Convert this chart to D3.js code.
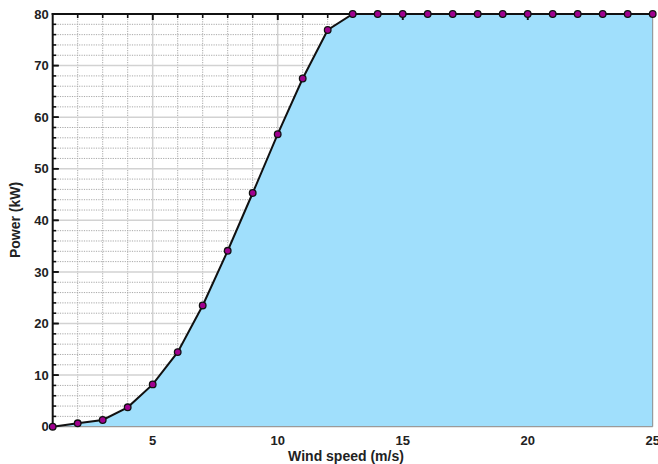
<!DOCTYPE html>
<html>
<head>
<meta charset="utf-8">
<script src="https://cdn.jsdelivr.net/npm/d3@7"></script>
<style>
  html, body { margin: 0; padding: 0; background: #fff; }
  svg { display: block; }
  text { font-family: "Liberation Sans", Arial, Helvetica, sans-serif; font-weight: bold; fill: #222; }
</style>
</head>
<body>
<svg id="chart" width="658" height="464"></svg>
<script>
// Wind speed (m/s) and turbine power output (kW)
const windSpeed = [1, 2, 3, 4, 5, 6, 7, 8, 9, 10, 11, 12, 13, 14, 15, 16, 17, 18, 19, 20, 21, 22, 23, 24, 25];
const power = [0, 0.66, 1.3, 3.76, 8.2, 14.46, 23.5, 34.1, 45.3, 56.7, 67.5, 76.9, 80, 80, 80, 80, 80, 80, 80, 80, 80, 80, 80, 80, 80];
const xTicks = [5, 10, 15, 20, 25];
const yTicks = [0, 10, 20, 30, 40, 50, 60, 70, 80];

const data = windSpeed.map((w, i) => ({ w, p: power[i] }));

const svg = d3.select("#chart");
const plotL = 52.7, plotR = 652.7, plotT = 14, plotB = 426.7;

const x = d3.scaleLinear().domain([1, 25]).range([plotL, plotR]);
const y = d3.scaleLinear().domain([0, 80]).range([plotB, plotT]);

const minorX = d3.range(2, 25);
const minorY = d3.range(2, 80, 2);

// minor grid (dotted)
const grid = svg.append("g");
grid.selectAll(".mx").data(minorX.filter(v => v % 5 !== 0)).join("line")
  .attr("x1", d => x(d)).attr("x2", d => x(d)).attr("y1", plotT).attr("y2", plotB)
  .attr("stroke", "#a8a8a8").attr("stroke-width", 1).attr("stroke-dasharray", "1.2,1.2");
grid.selectAll(".my").data(minorY.filter(v => v % 10 !== 0)).join("line")
  .attr("x1", plotL).attr("x2", plotR).attr("y1", d => y(d)).attr("y2", d => y(d))
  .attr("stroke", "#a8a8a8").attr("stroke-width", 1).attr("stroke-dasharray", "1.2,1.2");
// major grid (solid light grey)
grid.selectAll(".Mx").data(xTicks.filter(v => v < 25)).join("line")
  .attr("x1", d => x(d)).attr("x2", d => x(d)).attr("y1", plotT).attr("y2", plotB)
  .attr("stroke", "#d2d2d2").attr("stroke-width", 1.5);
grid.selectAll(".My").data(yTicks.filter(v => v > 0 && v < 80)).join("line")
  .attr("x1", plotL).attr("x2", plotR).attr("y1", d => y(d)).attr("y2", d => y(d))
  .attr("stroke", "#d2d2d2").attr("stroke-width", 1.5);

// area under the power curve
const area = d3.area().x(d => x(d.w)).y0(y(0)).y1(d => y(d.p));
svg.append("path").datum(data).attr("d", area).attr("fill", "#a0dffc");

// right and bottom frame (grey)
svg.append("line").attr("x1", plotR).attr("x2", plotR).attr("y1", plotT).attr("y2", plotB)
  .attr("stroke", "#8a8a8a").attr("stroke-width", 1);
svg.append("line").attr("x1", plotL).attr("x2", plotR).attr("y1", plotB).attr("y2", plotB)
  .attr("stroke", "#9a9a9a").attr("stroke-width", 1.2);

// top axis: ticks pointing inward
const topAxis = svg.append("g");
topAxis.selectAll("line.t").data(minorX.concat(xTicks.filter(v => v < 25))).join("line")
  .attr("x1", d => x(d)).attr("x2", d => x(d))
  .attr("y1", plotT).attr("y2", d => plotT + (d % 5 === 0 ? 6 : 4))
  .attr("stroke", "#111").attr("stroke-width", 1.6);
topAxis.append("line").attr("x1", plotL - 1).attr("x2", plotR + 1).attr("y1", plotT).attr("y2", plotT)
  .attr("stroke", "#111").attr("stroke-width", 2);

// left axis: ticks pointing inward
const leftAxis = svg.append("g");
leftAxis.selectAll("line.t").data(minorY.concat(yTicks.filter(v => v > 0 && v < 80))).join("line")
  .attr("x1", plotL).attr("x2", d => plotL + (d % 10 === 0 ? 6 : 3.5))
  .attr("y1", d => y(d)).attr("y2", d => y(d))
  .attr("stroke", "#111").attr("stroke-width", 1.6);
leftAxis.append("line").attr("x1", plotL).attr("x2", plotL).attr("y1", plotT - 1).attr("y2", plotB + 1)
  .attr("stroke", "#111").attr("stroke-width", 2);

// tick labels
svg.append("g").selectAll("text").data(yTicks).join("text")
  .attr("x", plotL - 4).attr("y", d => y(d)).attr("dy", "0.36em")
  .attr("text-anchor", "end").attr("font-size", 13).text(d => d);
svg.append("g").selectAll("text").data(xTicks).join("text")
  .attr("x", d => x(d)).attr("y", 445)
  .attr("text-anchor", "middle").attr("font-size", 13).text(d => d);

// power curve line and markers
const line = d3.line().x(d => x(d.w)).y(d => y(d.p));
svg.append("path").datum(data).attr("d", line)
  .attr("fill", "none").attr("stroke", "#111").attr("stroke-width", 2);
svg.append("g").selectAll("circle").data(data).join("circle")
  .attr("cx", d => x(d.w)).attr("cy", d => y(d.p)).attr("r", 3.3)
  .attr("fill", "#a0008f").attr("stroke", "#111").attr("stroke-width", 1.3);

// axis titles
svg.append("text").attr("x", 346).attr("y", 461).attr("text-anchor", "middle")
  .attr("font-size", 14).text("Wind speed (m/s)");
svg.append("text").attr("transform", "translate(20,220) rotate(-90)")
  .attr("text-anchor", "middle").attr("font-size", 14).text("Power (kW)");
</script>
</body>
</html>
